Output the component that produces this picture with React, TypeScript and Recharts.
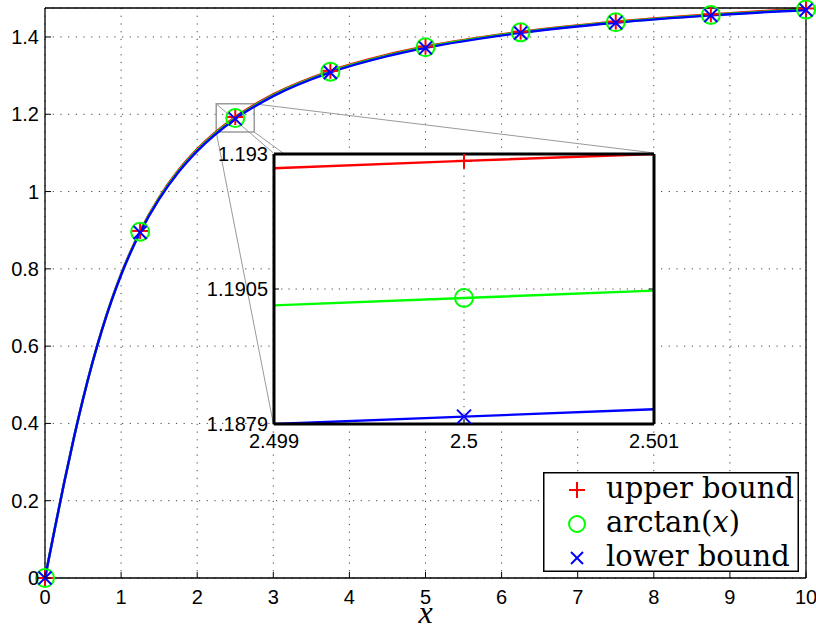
import React from 'react';
import {
  ComposedChart,
  Line,
  Scatter,
  XAxis,
  YAxis,
  CartesianGrid,
  ReferenceArea,
  ReferenceLine,
  Legend,
} from 'recharts';

// ---- main plot data -------------------------------------------------------
const sampleX = [0, 0.125, 0.25, 0.375, 0.5, 0.625, 0.75, 0.875, 1, 1.25, 1.5, 1.75, 2, 2.5, 3, 3.75, 4.5, 5, 6.25, 7.5, 8.75, 10];
const upperBound = [0, 0.1244, 0.245, 0.3589, 0.4638, 0.559, 0.6441, 0.7197, 0.7866, 0.8981, 0.9852, 1.0543, 1.1097, 1.1929, 1.2514, 1.3124, 1.3541, 1.3753, 1.4137, 1.4398, 1.4585, 1.4738];
const arctanValues = [0, 0.1244, 0.245, 0.3588, 0.4636, 0.5586, 0.6435, 0.7188, 0.7854, 0.8961, 0.9828, 1.0517, 1.1071, 1.1903, 1.249, 1.3102, 1.3521, 1.3734, 1.412, 1.4382, 1.457, 1.4711];
const lowerBound = [0, 0.1244, 0.245, 0.3587, 0.4634, 0.5582, 0.6428, 0.7178, 0.784, 0.8942, 0.9806, 1.0494, 1.1048, 1.188, 1.2468, 1.3082, 1.3503, 1.3717, 1.4105, 1.4369, 1.4558, 1.47];
const markerX = [0, 1.25, 2.5, 3.75, 5, 6.25, 7.5, 8.75, 10];
const xTicks = [0, 1, 2, 3, 4, 5, 6, 7, 8, 9, 10];
const yTicks = [0, 0.2, 0.4, 0.6, 0.8, 1, 1.2, 1.4];

// ---- zoomed-in detail around x = 2.5 --------------------------------------
const insetX = [2.499, 2.5, 2.501];
const insetUpper = [1.19275, 1.19289, 1.19302];
const insetArctan = [1.19015, 1.19029, 1.19043];
const insetLower = [1.1879, 1.18804, 1.18818];
const insetMarkerX = [2.5];
const insetXTicks = [2.499, 2.5, 2.501];
const insetYTicks = [1.1879, 1.19046, 1.19302];

// zoom window on the main axes and where the detail panel sits (main data units)
const zoomWindow = { x1: 2.25, x2: 2.75, y1: 1.154, y2: 1.227 };
const panelBox = { x1: 3, x2: 8, y1: 0.4, y2: 1.1 };

const RED = '#ff0000';
const GREEN = '#00ff00';
const BLUE = '#0000ff';
const SANS = '"Liberation Sans", Arial, Helvetica, sans-serif';
const SERIF = '"DejaVu Serif", serif';

const toPoints = (xs: number[], ys: number[]) => xs.map((x, i) => ({ x, y: ys[i] }));
const pick = (pts: { x: number; y: number }[], keep: number[]) => pts.filter((p) => keep.includes(p.x));

const upperPts = toPoints(sampleX, upperBound);
const arctanPts = toPoints(sampleX, arctanValues);
const lowerPts = toPoints(sampleX, lowerBound);

const insetUpperPts = toPoints(insetX, insetUpper);
const insetArctanPts = toPoints(insetX, insetArctan);
const insetLowerPts = toPoints(insetX, insetLower);

// ---- marker shapes --------------------------------------------------------
const PlusMark = ({ cx, cy, color, r = 8 }: any) => (
  <g stroke={color} strokeWidth={2}>
    <line x1={cx - r} y1={cy} x2={cx + r} y2={cy} />
    <line x1={cx} y1={cy - r} x2={cx} y2={cy + r} />
  </g>
);
const CircleMark = ({ cx, cy, color, r = 9 }: any) => (
  <circle cx={cx} cy={cy} r={r} fill="none" stroke={color} strokeWidth={2} />
);
const CrossMark = ({ cx, cy, color, r = 6.5 }: any) => (
  <g stroke={color} strokeWidth={2}>
    <line x1={cx - r} y1={cy - r} x2={cx + r} y2={cy + r} />
    <line x1={cx - r} y1={cy + r} x2={cx + r} y2={cy - r} />
  </g>
);

// ---- tick renderers (ticks point inward, as on a boxed plot) ---------------
const fmtDefault = (v: number) => String(v);
const fmtFive = (v: number) => String(parseFloat(v.toPrecision(5)));

const bottomTick = (len: number, dy: number, fmt = fmtDefault) => (p: any) => (
  <g>
    <line x1={p.x} y1={p.y} x2={p.x} y2={p.y - len} stroke="#000" strokeWidth={1} />
    <text x={p.x} y={p.y + dy} textAnchor="middle" fontSize={20} fontFamily={SANS} fill="#000">
      {fmt(p.payload.value)}
    </text>
  </g>
);
const leftTick = (len: number, dx: number, fmt = fmtDefault) => (p: any) => (
  <g>
    <line x1={p.x} y1={p.y} x2={p.x + len} y2={p.y} stroke="#000" strokeWidth={1} />
    <text x={p.x - dx} y={p.y + 7} textAnchor="end" fontSize={20} fontFamily={SANS} fill="#000">
      {fmt(p.payload.value)}
    </text>
  </g>
);
const topTick = (len: number) => (p: any) => (
  <line x1={p.x} y1={p.y} x2={p.x} y2={p.y + len} stroke="#000" strokeWidth={1} />
);
const rightTick = (len: number) => (p: any) => (
  <line x1={p.x} y1={p.y} x2={p.x - len} y2={p.y} stroke="#000" strokeWidth={1} />
);

// ---- legend ---------------------------------------------------------------
const legendItems = [
  { parts: [{ t: 'upper bound' }], color: RED, Mark: PlusMark, size: 8 },
  { parts: [{ t: 'arctan(' }, { t: 'x', italic: true }, { t: ')' }], color: GREEN, Mark: CircleMark, size: 8 },
  { parts: [{ t: 'lower bound' }], color: BLUE, Mark: CrossMark, size: 6 },
];

const renderLegend = () => (
  <svg width={256} height={110} style={{ display: 'block', overflow: 'visible' }}>
    <rect x={0.75} y={0.75} width={254.5} height={98.5} fill="#fff" stroke="#000" strokeWidth={1.5} />
    {legendItems.map((it, i) => {
      const Mark = it.Mark;
      return (
        <g key={i}>
          <Mark cx={34} cy={18 + i * 34} color={it.color} r={it.size} />
          <text x={63} y={26 + i * 34} fontSize={29} fontFamily={SERIF} fill="#000">
            {it.parts.map((s: any, j: number) => (
              <tspan key={j} fontStyle={s.italic ? 'italic' : 'normal'}>
                {s.t}
              </tspan>
            ))}
          </text>
        </g>
      );
    })}
  </svg>
);

// ---- detail panel ---------------------------------------------------------
const Inset = () => (
  <ComposedChart
    width={480}
    height={310}
    margin={{ top: 9, right: 29, bottom: 29, left: 69 }}
  >
    <CartesianGrid
      fill="#fff"
      stroke="#444"
      strokeDasharray="1.2 6"
      xAxisId="b"
      yAxisId="l"
    />
    <XAxis
      xAxisId="b"
      dataKey="x"
      type="number"
      domain={[2.499, 2.501]}
      ticks={insetXTicks}
      height={1}
      tickSize={0}
      tickMargin={0}
      tickLine={false}
      axisLine={{ stroke: '#000', strokeWidth: 3 }}
      tick={bottomTick(5, 24)}
      interval={0}
      allowDataOverflow
    />
    <XAxis
      xAxisId="t"
      orientation="top"
      type="number"
      domain={[2.499, 2.501]}
      ticks={insetXTicks}
      height={1}
      tickSize={0}
      tickMargin={0}
      tickLine={false}
      axisLine={{ stroke: '#000', strokeWidth: 3 }}
      tick={topTick(5)}
      interval={0}
      allowDataOverflow
    />
    <YAxis
      yAxisId="l"
      type="number"
      domain={[1.1879, 1.19302]}
      ticks={insetYTicks}
      width={1}
      tickSize={0}
      tickMargin={0}
      tickLine={false}
      axisLine={{ stroke: '#000', strokeWidth: 3 }}
      tick={leftTick(5, 6, fmtFive)}
      interval={0}
      allowDataOverflow
    />
    <YAxis
      yAxisId="r"
      orientation="right"
      type="number"
      domain={[1.1879, 1.19302]}
      ticks={insetYTicks}
      width={1}
      tickSize={0}
      tickMargin={0}
      tickLine={false}
      axisLine={{ stroke: '#000', strokeWidth: 3 }}
      tick={rightTick(5)}
      interval={0}
      allowDataOverflow
    />
    <Line xAxisId="b" yAxisId="l" data={insetUpperPts} dataKey="y" type="linear" stroke={RED} strokeWidth={2.4} dot={false} activeDot={false} isAnimationActive={false} />
    <Line xAxisId="b" yAxisId="l" data={insetArctanPts} dataKey="y" type="linear" stroke={GREEN} strokeWidth={2.4} dot={false} activeDot={false} isAnimationActive={false} />
    <Line xAxisId="b" yAxisId="l" data={insetLowerPts} dataKey="y" type="linear" stroke={BLUE} strokeWidth={2.4} dot={false} activeDot={false} isAnimationActive={false} />
    <Scatter xAxisId="b" yAxisId="l" data={pick(insetUpperPts, insetMarkerX)} dataKey="y" isAnimationActive={false}
      shape={(p: any) => <PlusMark cx={p.cx} cy={p.cy} color={RED} r={8} />} />
    <Scatter xAxisId="b" yAxisId="l" data={pick(insetArctanPts, insetMarkerX)} dataKey="y" isAnimationActive={false}
      shape={(p: any) => <CircleMark cx={p.cx} cy={p.cy} color={GREEN} r={9} />} />
    <Scatter xAxisId="b" yAxisId="l" data={pick(insetLowerPts, insetMarkerX)} dataKey="y" isAnimationActive={false}
      shape={(p: any) => <CrossMark cx={p.cx} cy={p.cy} color={BLUE} r={7} />} />
  </ComposedChart>
);

// ---- main plot ------------------------------------------------------------
export default function App() {
  const z = zoomWindow;
  const b = panelBox;
  return (
    <div style={{ position: 'absolute', left: 0, top: 0, width: 816, height: 631, background: '#fff' }}>
      <ComposedChart width={816} height={631} margin={{ top: 7, right: 9, bottom: 52, left: 44 }}>
        <CartesianGrid stroke="#444" strokeDasharray="1.2 6.5" xAxisId="b" yAxisId="l" />
        <XAxis
          xAxisId="b"
          dataKey="x"
          type="number"
          domain={[0, 10]}
          ticks={xTicks}
          height={1}
          tickSize={0}
          tickMargin={0}
          tickLine={false}
          axisLine={{ stroke: '#000', strokeWidth: 1.3 }}
          tick={bottomTick(6, 26)}
          interval={0}
          label={{
            content: (p: any) => (
              <text
                x={p.viewBox.x + p.viewBox.width / 2}
                y={p.viewBox.y + 45}
                textAnchor="middle"
                fontSize={32}
                fontStyle="italic"
                fontFamily='"Liberation Serif", "Times New Roman", serif'
                fill="#000"
              >
                x
              </text>
            ),
          }}
        />
        <XAxis
          xAxisId="t"
          orientation="top"
          type="number"
          domain={[0, 10]}
          ticks={xTicks}
          height={1}
          tickSize={0}
          tickMargin={0}
          tickLine={false}
          axisLine={{ stroke: '#000', strokeWidth: 1.3 }}
          tick={topTick(6)}
          interval={0}
        />
        <YAxis
          yAxisId="l"
          type="number"
          domain={[0, 1.475]}
          ticks={yTicks}
          width={1}
          tickSize={0}
          tickMargin={0}
          tickLine={false}
          axisLine={{ stroke: '#000', strokeWidth: 1.3 }}
          tick={leftTick(6, 6)}
          interval={0}
        />
        <YAxis
          yAxisId="r"
          orientation="right"
          type="number"
          domain={[0, 1.475]}
          ticks={yTicks}
          width={1}
          tickSize={0}
          tickMargin={0}
          tickLine={false}
          axisLine={{ stroke: '#000', strokeWidth: 1.3 }}
          tick={rightTick(6)}
          interval={0}
        />

        {/* zoom window and the lines leading to the detail panel */}
        <ReferenceArea xAxisId="b" yAxisId="l" x1={z.x1} x2={z.x2} y1={z.y1} y2={z.y2}
          fill="none" fillOpacity={0} stroke="#9a9a9a" strokeWidth={1.5} ifOverflow="visible" />
        <ReferenceLine xAxisId="b" yAxisId="l" segment={[{ x: z.x1, y: z.y2 }, { x: b.x1, y: b.y2 }]} stroke="#9a9a9a" strokeWidth={1} ifOverflow="visible" />
        <ReferenceLine xAxisId="b" yAxisId="l" segment={[{ x: z.x2, y: z.y2 }, { x: b.x2, y: b.y2 }]} stroke="#9a9a9a" strokeWidth={1} ifOverflow="visible" />
        <ReferenceLine xAxisId="b" yAxisId="l" segment={[{ x: z.x1, y: z.y1 }, { x: b.x1, y: b.y1 }]} stroke="#9a9a9a" strokeWidth={1} ifOverflow="visible" />
        <ReferenceLine xAxisId="b" yAxisId="l" segment={[{ x: z.x2, y: z.y1 }, { x: b.x2, y: b.y1 }]} stroke="#9a9a9a" strokeWidth={1} ifOverflow="visible" />

        <Line xAxisId="b" yAxisId="l" data={upperPts} dataKey="y" type="monotone" stroke={RED} strokeWidth={2.4} dot={false} activeDot={false} isAnimationActive={false} />
        <Line xAxisId="b" yAxisId="l" data={arctanPts} dataKey="y" type="monotone" stroke={GREEN} strokeWidth={2.4} dot={false} activeDot={false} isAnimationActive={false} />
        <Line xAxisId="b" yAxisId="l" data={lowerPts} dataKey="y" type="monotone" stroke={BLUE} strokeWidth={2.4} dot={false} activeDot={false} isAnimationActive={false} />

        <Scatter xAxisId="b" yAxisId="l" data={pick(upperPts, markerX)} dataKey="y" isAnimationActive={false}
          shape={(p: any) => <PlusMark cx={p.cx} cy={p.cy} color={RED} r={8} />} />
        <Scatter xAxisId="b" yAxisId="l" data={pick(arctanPts, markerX)} dataKey="y" isAnimationActive={false}
          shape={(p: any) => <CircleMark cx={p.cx} cy={p.cy} color={GREEN} r={9} />} />
        <Scatter xAxisId="b" yAxisId="l" data={pick(lowerPts, markerX)} dataKey="y" isAnimationActive={false}
          shape={(p: any) => <CrossMark cx={p.cx} cy={p.cy} color={BLUE} r={6.5} />} />

        <Legend
          layout="vertical"
          align="center"
          verticalAlign="middle"
          content={renderLegend}
          wrapperStyle={{ left: 543, top: 472, width: 256, height: 110 }}
        />
      </ComposedChart>
      <div style={{ position: 'absolute', left: 204, top: 144 }}>
        <Inset />
      </div>
    </div>
  );
}
